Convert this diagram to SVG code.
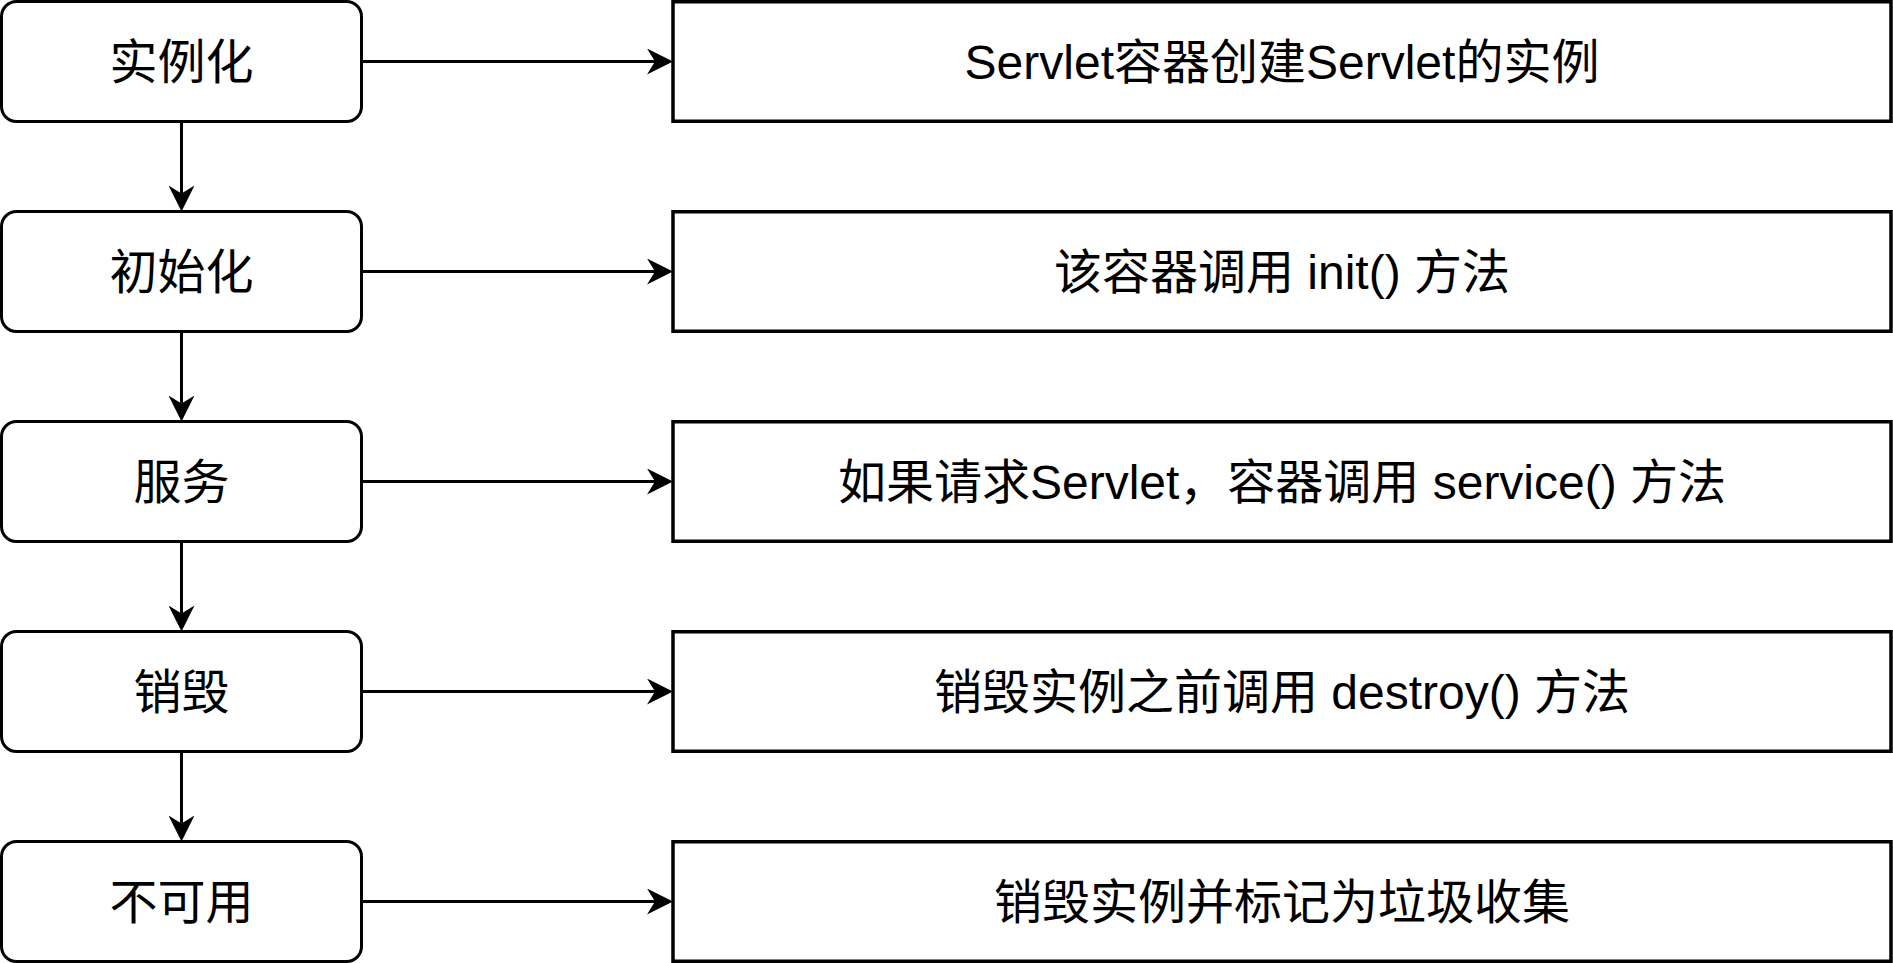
<svg xmlns="http://www.w3.org/2000/svg" width="1893" height="963" viewBox="0 0 1893 963">
<style>
.stage{fill:#fff;stroke:#000;stroke-width:3}
.desc{fill:#fff;stroke:#000;stroke-width:3.5}
.t{font-family:"Liberation Sans","Noto Sans CJK SC",sans-serif;font-size:48px;fill:#000;text-anchor:middle}
.edge{stroke:#000;stroke-width:3;fill:none;marker-end:url(#arr)}
</style>
<defs>
<marker id="arr" markerUnits="userSpaceOnUse" viewBox="0 0 26 26" refX="8" refY="13" markerWidth="26" markerHeight="26" orient="auto">
<path d="M0,0 L26,13 L0,26 L8,13 Z" fill="#000"/>
</marker>
</defs>
<rect width="1893" height="963" fill="#fff"/>
<g id="connectors">
<line class="edge" x1="361.5" y1="61.5" x2="655" y2="61.5"/>
<line class="edge" x1="361.5" y1="271.5" x2="655" y2="271.5"/>
<line class="edge" x1="361.5" y1="481.5" x2="655" y2="481.5"/>
<line class="edge" x1="361.5" y1="691.5" x2="655" y2="691.5"/>
<line class="edge" x1="361.5" y1="901.5" x2="655" y2="901.5"/>
<line class="edge" x1="181.5" y1="121.5" x2="181.5" y2="193.5"/>
<line class="edge" x1="181.5" y1="331.5" x2="181.5" y2="403.5"/>
<line class="edge" x1="181.5" y1="541.5" x2="181.5" y2="613.5"/>
<line class="edge" x1="181.5" y1="751.5" x2="181.5" y2="823.5"/>
</g>
<g id="n-instantiate"><rect class="stage" x="1.5" y="1.5" width="360" height="120" rx="15"/><text class="t" x="181.5" y="78.5">实例化</text></g>
<g id="n-init"><rect class="stage" x="1.5" y="211.5" width="360" height="120" rx="15"/><text class="t" x="181.5" y="288.5">初始化</text></g>
<g id="n-service"><rect class="stage" x="1.5" y="421.5" width="360" height="120" rx="15"/><text class="t" x="181.5" y="498.5">服务</text></g>
<g id="n-destroy"><rect class="stage" x="1.5" y="631.5" width="360" height="120" rx="15"/><text class="t" x="181.5" y="708.5">销毁</text></g>
<g id="n-unavailable"><rect class="stage" x="1.5" y="841.5" width="360" height="120" rx="15"/><text class="t" x="181.5" y="918.5">不可用</text></g>
<g id="d-instantiate"><rect class="desc" x="673" y="1.75" width="1218" height="119.5"/><text class="t" x="1282" y="78.5">Servlet容器创建Servlet的实例</text></g>
<g id="d-init"><rect class="desc" x="673" y="211.75" width="1218" height="119.5"/><text class="t" x="1282" y="288.5">该容器调用 init() 方法</text></g>
<g id="d-service"><rect class="desc" x="673" y="421.75" width="1218" height="119.5"/><text class="t" x="1282" y="498.5">如果请求Servlet，容器调用 service() 方法</text></g>
<g id="d-destroy"><rect class="desc" x="673" y="631.75" width="1218" height="119.5"/><text class="t" x="1282" y="708.5">销毁实例之前调用 destroy() 方法</text></g>
<g id="d-unavailable"><rect class="desc" x="673" y="841.75" width="1218" height="119.5"/><text class="t" x="1282" y="918.5">销毁实例并标记为垃圾收集</text></g>
</svg>
